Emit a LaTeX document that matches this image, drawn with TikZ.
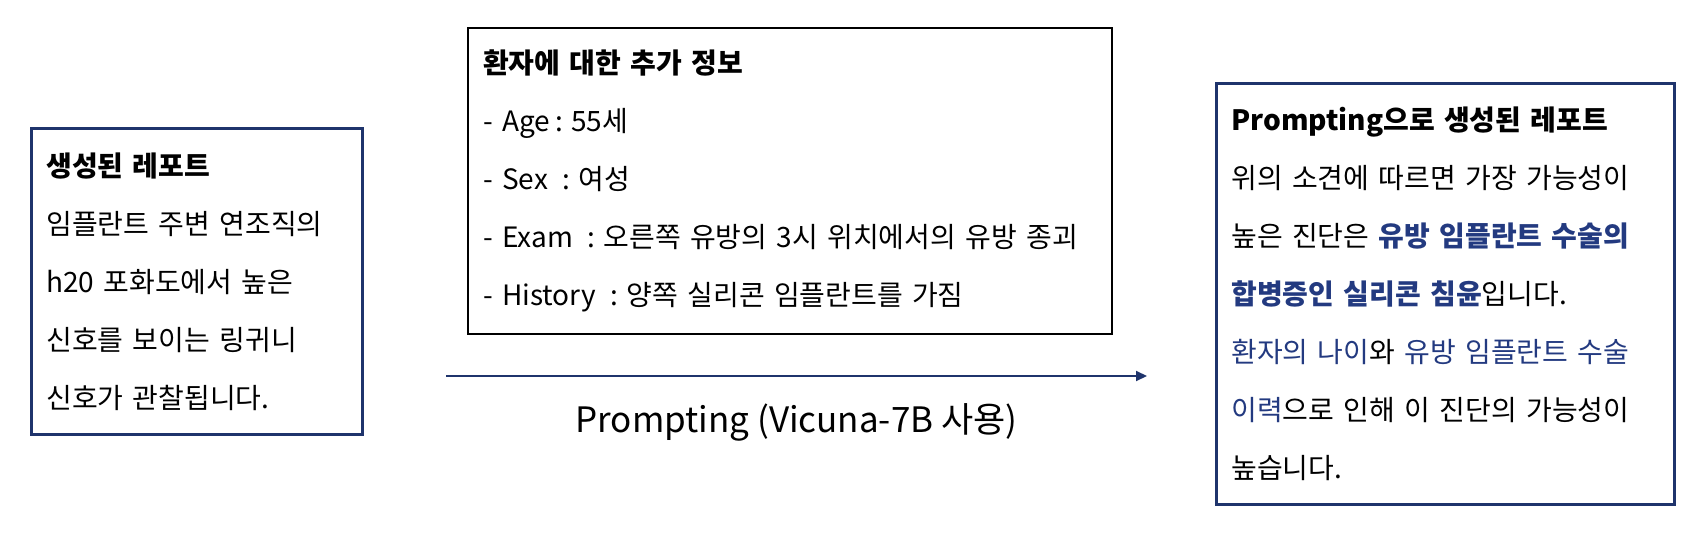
\documentclass[tikz,border=0pt]{standalone}
\usepackage{fontspec}
\setmainfont{Noto Sans CJK KR}
\usepackage{tikz}
\usetikzlibrary{arrows.meta,positioning}
\definecolor{boxnavy}{RGB}{31,52,108}
\definecolor{hlblue}{RGB}{35,58,128}
\newcommand{\tcolon}{\kern-.15em:\kern-.2em}

\begin{document}
\begin{tikzpicture}[x=0.5pt,y=-0.5pt,
  report/.style={draw=boxnavy,line width=1.3pt,anchor=north west,align=left,
    inner xsep=7.5pt,inner ysep=0pt,font=\fontsize{14pt}{29pt}\selectfont},
  info/.style={report,draw=black,line width=1pt},
  flow/.style={draw=boxnavy,line width=1pt,-{Triangle[length=5.5pt,width=5pt]}}]

  \useasboundingbox (0,0) rectangle (1701,535);
%%
  % Node: generated
  \node[report,text width=150.5pt,minimum height=153pt] (generated) at (30,127)
    {\textbf{생성된 레포트}\\
     임플란트 주변 연조직의\\
     h20 포화도에서 높은\\
     신호를 보이는 링귀니\\
     신호가 관찰됩니다.};
  % Node: patient
  \node[info,text width=307pt,minimum height=153pt] (patient) at (467,27)
    {\textbf{환자에 대한 추가 정보}\\
     - Age \tcolon{} 55세\\
     - Sex\ \ \tcolon{} 여성\\
     - Exam\ \ \tcolon{} 오른쪽 유방의 3시 위치에서의 유방 종괴\\
     - History\ \ \tcolon{} 양쪽 실리콘 임플란트를 가짐};
  % Node: prompted
  \node[report,text width=214pt,minimum height=210.5pt] (prompted) at (1215,82)
    {\textbf{Prompting으로 생성된 레포트}\\
     위의 소견에 따르면 가장 가능성이\\
     높은 진단은 \textcolor{hlblue}{\textbf{유방 임플란트 수술의}}\\
     \textcolor{hlblue}{\textbf{합병증인 실리콘 침윤}}입니다.\\
     \textcolor{hlblue}{환자의 나이}와 \textcolor{hlblue}{유방 임플란트 수술}\\
     \textcolor{hlblue}{이력}으로 인해 이 진단의 가능성이\\
     높습니다.};
  % Edge: generated -> prompted
  \coordinate (start) at (446,376);
  \coordinate (stop) at (1147,376);
  \draw[flow] (start) -- node[below=10pt,font=\fontsize{17.5pt}{20pt}\selectfont] (prompt)
    {Prompting (Vicuna-7B 사용)} (stop);
%
\end{tikzpicture}
\end{document}
